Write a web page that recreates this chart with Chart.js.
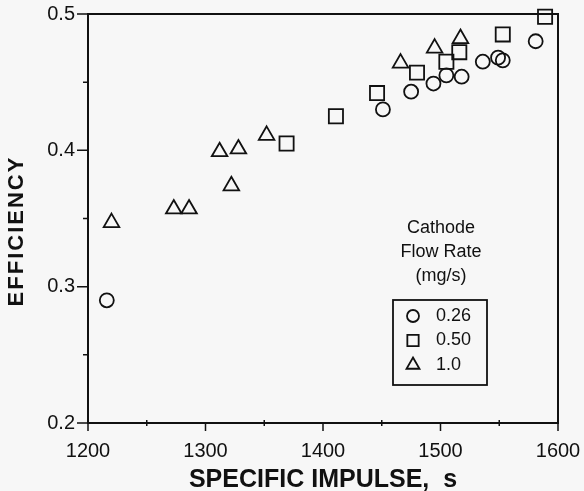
<!DOCTYPE html>
<html>
<head>
<meta charset="utf-8">
<script src="https://cdn.jsdelivr.net/npm/chart.js@4/dist/chart.umd.min.js"></script>
<style>
  html, body { margin: 0; padding: 0; background: #f7f7f7; }
  #wrap { width: 584px; height: 491px; position: relative; }
</style>
</head>
<body>
<div id="wrap"><canvas id="chart" width="584" height="491"></canvas></div>
<script>
// cathode flow rate 0.26 mg/s (circles)
const circleX = [1216, 1451, 1475, 1494, 1505, 1518, 1536, 1549, 1553, 1581];
const circleY = [0.290, 0.430, 0.443, 0.449, 0.455, 0.454, 0.465, 0.468, 0.466, 0.480];
// 0.50 mg/s (squares)
const squareX = [1369, 1411, 1446, 1480, 1505, 1516, 1553, 1589];
const squareY = [0.405, 0.425, 0.442, 0.457, 0.465, 0.472, 0.485, 0.498];
// 1.0 mg/s (triangles)
const triangleX = [1220, 1273, 1286, 1312, 1322, 1328, 1352, 1466, 1495, 1517];
const triangleY = [0.347, 0.357, 0.357, 0.399, 0.374, 0.401, 0.411, 0.464, 0.475, 0.482];

const xTicks = [1200, 1300, 1400, 1500, 1600];
const xMinor = [1250, 1350, 1450, 1550];
const yTicks = [0.2, 0.3, 0.4, 0.5];
const yMinor = [0.25, 0.35, 0.45];
const legendLabels = ['0.26', '0.50', '1.0'];
const legendTitle = ['Cathode', 'Flow Rate', '(mg/s)'];

const FONT = '"Liberation Sans", Arial, Helvetica, sans-serif';

const toPoints = (xs, ys) => xs.map((x, i) => ({ x: x, y: ys[i] }));

const markerStyles = [
  { pointStyle: 'circle', radius: 7 },
  { pointStyle: 'rect', radius: 10 },
  { pointStyle: 'triangle', radius: 9 }
];

function drawMarker(ctx, style, x, y, r) {
  ctx.beginPath();
  if (style === 'circle') {
    ctx.arc(x, y, r, 0, Math.PI * 2);
  } else if (style === 'rect') {
    const s = r * Math.SQRT1_2;
    ctx.rect(x - s, y - s, 2 * s, 2 * s);
  } else {
    ctx.moveTo(x, y - r);
    ctx.lineTo(x + r * 0.866, y + r * 0.5);
    ctx.lineTo(x - r * 0.866, y + r * 0.5);
    ctx.closePath();
  }
  ctx.stroke();
}

// frame, ticks, axis titles and the in-plot legend
const decorations = {
  id: 'decorations',
  afterDraw(chart) {
    const ctx = chart.ctx;
    const a = chart.chartArea;
    const xs = chart.scales.x, ys = chart.scales.y;
    ctx.save();
    ctx.strokeStyle = '#111';
    ctx.lineWidth = 2;
    ctx.strokeRect(a.left, a.top, a.right - a.left, a.bottom - a.top);

    ctx.lineWidth = 1.5;
    ctx.beginPath();
    yTicks.forEach(v => { const p = ys.getPixelForValue(v); ctx.moveTo(a.left - 11, p); ctx.lineTo(a.left, p); });
    yMinor.forEach(v => { const p = ys.getPixelForValue(v); ctx.moveTo(a.left - 5, p); ctx.lineTo(a.left, p); });
    xTicks.forEach(v => { const p = xs.getPixelForValue(v); ctx.moveTo(p, a.bottom); ctx.lineTo(p, a.bottom + 8); });
    xMinor.forEach(v => { const p = xs.getPixelForValue(v); ctx.moveTo(p, a.bottom - 3); ctx.lineTo(p, a.bottom + 3); });
    ctx.stroke();

    // axis titles
    ctx.fillStyle = '#111';
    ctx.textAlign = 'center';
    ctx.textBaseline = 'middle';
    ctx.font = 'bold 25px ' + FONT;
    ctx.fillText('SPECIFIC IMPULSE,  s', (a.left + a.right) / 2, 480);
    ctx.save();
    ctx.font = 'bold 22px ' + FONT;
    ctx.letterSpacing = '2px';
    ctx.translate(17, 231);
    ctx.rotate(-Math.PI / 2);
    ctx.fillText('EFFICIENCY', 0, 0);
    ctx.restore();

    // legend
    ctx.font = '18px ' + FONT;
    const cx = a.left + 353;
    legendTitle.forEach((t, i) => ctx.fillText(t, cx, a.top + 214 + i * 24));
    ctx.lineWidth = 1.8;
    ctx.strokeRect(a.left + 305, a.top + 286, 94, 85);
    ctx.textAlign = 'left';
    legendLabels.forEach((t, i) => {
      const y = a.top + 302 + i * 24.5;
      drawMarker(ctx, markerStyles[i].pointStyle, a.left + 325, y, i === 1 ? 8 : (i === 2 ? 7.5 : 6));
      ctx.fillText(t, a.left + 348, y);
    });
    ctx.restore();
  }
};

const datasets = [
  { label: '0.26', data: toPoints(circleX, circleY) },
  { label: '0.50', data: toPoints(squareX, squareY) },
  { label: '1.0', data: toPoints(triangleX, triangleY) }
].map((d, i) => ({
  ...d,
  pointStyle: markerStyles[i].pointStyle,
  pointRadius: markerStyles[i].radius,
  pointBorderColor: '#111',
  pointBackgroundColor: 'rgba(0,0,0,0)',
  pointBorderWidth: 1.8,
  showLine: false,
  clip: false
}));

new Chart(document.getElementById('chart'), {
  type: 'scatter',
  data: { datasets: datasets },
  options: {
    responsive: false,
    animation: false,
    layout: { padding: { left: 0, top: 14, right: 26, bottom: 0 } },
    plugins: { legend: { display: false }, tooltip: { enabled: false } },
    scales: {
      x: {
        type: 'linear', min: 1200, max: 1600,
        afterBuildTicks: s => { s.ticks = xTicks.map(v => ({ value: v })); },
        afterFit: s => { s.height = 68; s.paddingLeft = 0; s.paddingRight = 0; },
        grid: { display: false },
        border: { display: false },
        ticks: { color: '#111', font: { family: FONT, size: 20 }, padding: 8, maxRotation: 0, callback: v => String(v) }
      },
      y: {
        type: 'linear', min: 0.2, max: 0.5,
        afterBuildTicks: s => { s.ticks = yTicks.map(v => ({ value: v })); },
        afterFit: s => { s.width = 88; s.paddingTop = 0; s.paddingBottom = 0; },
        grid: { display: false },
        border: { display: false },
        ticks: { color: '#111', font: { family: FONT, size: 20 }, padding: 5, callback: v => v.toFixed(1) }
      }
    }
  },
  plugins: [decorations]
});
</script>
</body>
</html>
